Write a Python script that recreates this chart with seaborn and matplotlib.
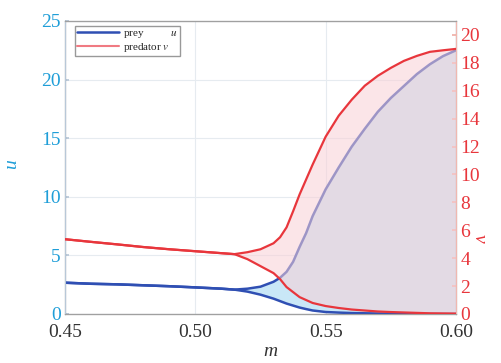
import pandas as pd
import matplotlib
matplotlib.use("Agg")
import matplotlib.pyplot as plt
import seaborn as sns

# single-branch part (before the split)
m_pre = [0.45, 0.46, 0.47, 0.48, 0.49, 0.50, 0.51]
u_pre = [2.67, 2.58, 2.53, 2.45, 2.37, 2.27, 2.16]
v_pre = [5.36, 5.17, 4.99, 4.80, 4.64, 4.50, 4.36]

# two branches after the split
m_post = [0.515, 0.52, 0.525, 0.53, 0.5325, 0.535, 0.5375, 0.54, 0.5425, 0.545,
          0.55, 0.555, 0.56, 0.565, 0.57, 0.575, 0.58, 0.585, 0.59, 0.595, 0.60]
u_high = [2.08, 2.16, 2.33, 2.75, 3.09, 3.6, 4.45, 5.72, 6.9, 8.35,
          10.64, 12.5, 14.28, 15.8, 17.25, 18.43, 19.45, 20.47, 21.31, 22.0, 22.5]
u_low = [2.08, 1.91, 1.65, 1.31, 1.1, 0.89, 0.72, 0.55, 0.42, 0.3,
         0.17, 0.12, 0.08, 0.06, 0.04, 0.035, 0.03, 0.025, 0.02, 0.015, 0.01]
v_high = [4.29, 4.43, 4.64, 5.07, 5.5, 6.21, 7.36, 8.57, 9.64, 10.71,
          12.71, 14.21, 15.36, 16.36, 17.07, 17.64, 18.14, 18.5, 18.79, 18.9, 19.0]
v_low = [4.29, 3.93, 3.43, 2.93, 2.5, 1.93, 1.57, 1.21, 1.0, 0.79,
         0.57, 0.43, 0.32, 0.25, 0.18, 0.14, 0.11, 0.08, 0.05, 0.04, 0.03]

left_ticks = [0, 5, 10, 15, 20, 25]
right_ticks = [0, 2, 4, 6, 8, 10, 12, 14, 16, 18, 20]
x_ticks = [0.45, 0.50, 0.55, 0.60]

blue = "#2f4fb3"
red = "#e8363c"
cyan = "#1f9ed8"
serif = "Liberation Serif"

sns.set_theme(style="white")
plt.rcParams["font.family"] = [serif, "DejaVu Sans"]
plt.rcParams["mathtext.fontset"] = "stix"

fig = plt.figure(figsize=(5.01, 3.63), dpi=100)
ax = fig.add_axes([65 / 501, 1 - 314 / 363, 391 / 501, 293 / 363])
ax2 = ax.twinx()

m_hi = m_pre + m_post
df = pd.DataFrame({"m": m_hi, "u_hi": u_pre + u_high, "u_lo": u_pre + u_low,
                   "v_hi": v_pre + v_high, "v_lo": v_pre + v_low})

# prey on the left axis
ax.fill_between(m_post, u_low, u_high, color="#c9e7f7", lw=0, zorder=1)
sns.lineplot(data=df, x="m", y="u_lo", ax=ax, color=blue, lw=1.8, estimator=None, zorder=3)
sns.lineplot(data=df, x="m", y="u_hi", ax=ax, color=blue, lw=1.8, estimator=None, zorder=3,
             label="prey          $u$")
ax.plot([], [], color="#f07a82", lw=1.5, label="predator $v$")

# predator on the right axis (translucent fill tints the prey branch beneath it)
ax2.fill_between(m_post, v_low, v_high, color="#f9d0d6", alpha=0.55, lw=0, zorder=1)
sns.lineplot(data=df, x="m", y="v_lo", ax=ax2, color=red, lw=1.6, estimator=None, zorder=3)
sns.lineplot(data=df, x="m", y="v_hi", ax=ax2, color=red, lw=1.6, estimator=None, zorder=3)

ax.set_xlim(0.45, 0.60)
ax.set_ylim(0, 25)
ax2.set_ylim(0, 21)
ax.set_xticks(x_ticks)
ax.set_xticklabels([f"{t:.2f}" for t in x_ticks])
ax.set_yticks(left_ticks)
ax2.set_yticks(right_ticks)

ax.grid(True, color="#e6ebf0", lw=0.8)
ax2.grid(False)

ax.tick_params(axis="x", direction="in", length=3, colors="#9a9a9a", labelcolor="#333333",
               labelsize=14, pad=7)
ax.tick_params(axis="y", direction="in", length=3, colors="#b8c8d8", labelcolor=cyan,
               labelsize=14, pad=3)
ax2.tick_params(axis="y", direction="in", length=3, colors="#f0b0a8", labelcolor=red,
                labelsize=14, pad=3)

for sp in ["top", "bottom"]:
    ax2.spines[sp].set_color("#a0a0a0")
ax2.spines["left"].set_color("#b8c8d8")
ax2.spines["right"].set_color("#f0b8b0")
for sp in ax.spines.values():
    sp.set_linewidth(0.8)
for sp in ax2.spines.values():
    sp.set_linewidth(0.8)

ax.set_xlabel("m", fontsize=14, style="italic", color="#333333")
ax.xaxis.set_label_coords(0.525, -0.1)
ax.set_ylabel("u", fontsize=14, style="italic", color=cyan, rotation=90)
ax.yaxis.set_label_coords(-0.115, 0.51)
ax2.set_ylabel("v", fontsize=14, style="italic", color=red, rotation=270)
ax2.yaxis.set_label_coords(1.08, 0.26)

ax.legend(loc="upper left", bbox_to_anchor=(0.02, 0.99), fontsize=8, frameon=True,
          fancybox=False, edgecolor="#999999", framealpha=1, handlelength=3.8,
          handletextpad=0.3, borderpad=0.2, labelspacing=0.05, borderaxespad=0.2)
ax2.set_zorder(ax.get_zorder() + 1)
ax2.patch.set_visible(False)
leg = ax.get_legend()
leg.remove()
ax2.add_artist(leg)

fig.savefig("out.png", dpi=100)
